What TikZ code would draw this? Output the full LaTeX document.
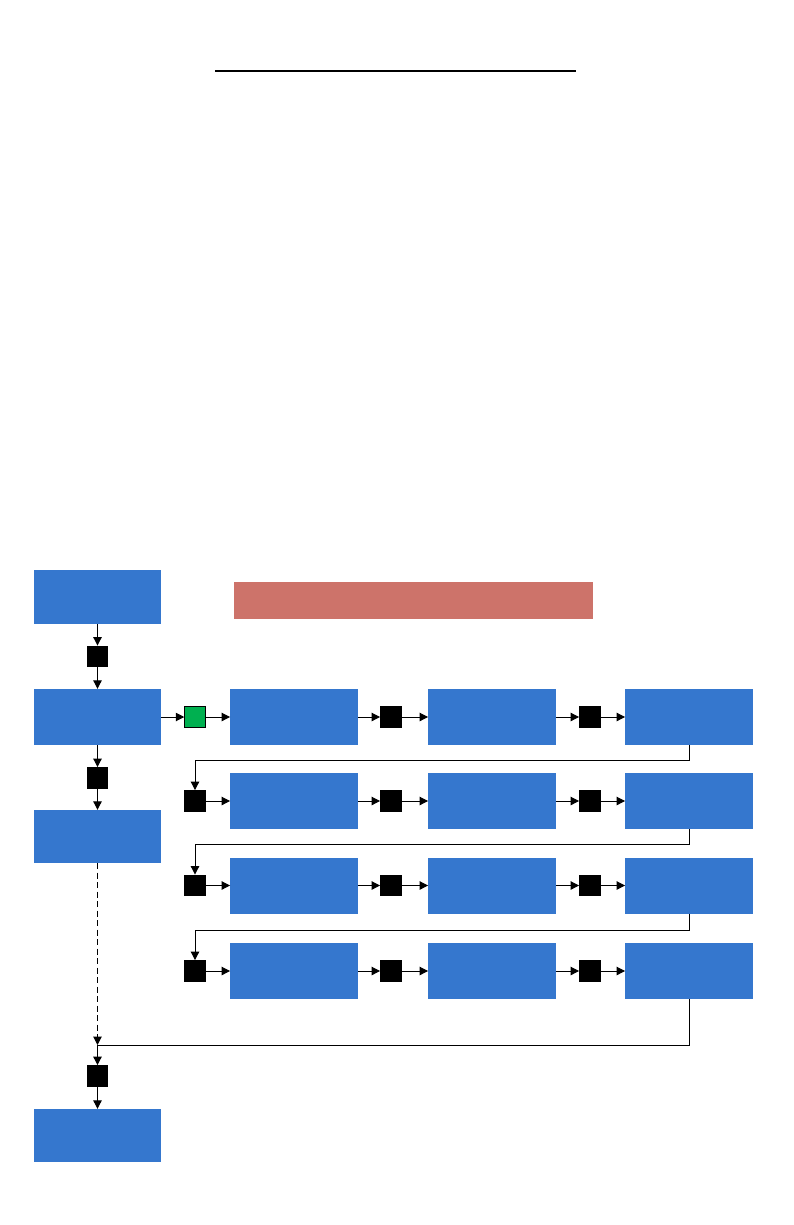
\documentclass[tikz,border=0pt]{standalone}
\usetikzlibrary{arrows.meta}
\definecolor{boxblue}{RGB}{53,119,206}
\definecolor{barred}{RGB}{205,115,106}
\definecolor{gategreen}{RGB}{0,176,80}
\begin{document}
\begin{tikzpicture}[x=1pt,y=-1pt,
  blk/.style={rectangle,fill=boxblue,minimum width=127.5pt,minimum height=56pt,inner sep=0pt},
  sq/.style={rectangle,fill=black,minimum size=21.5pt,inner sep=0pt},
  gsq/.style={rectangle,fill=gategreen,draw=black,line width=0.8pt,minimum size=20.7pt,inner sep=0pt},
  link/.style={line width=1pt,-{Triangle[length=8.5pt,width=8.5pt]}},
  wire/.style={line width=1pt}]
\useasboundingbox (0,0) rectangle (793,1225);
% title rule
\draw[line width=2pt] (215,71) -- (576,71);
% banner
\node[fill=barred,minimum width=359pt,minimum height=37pt,inner sep=0pt] (banner) at (413.5,600.5) {};
% left column
\node[blk,minimum height=54pt] (A) at (97.5,597) {};
\node[sq] (s1) at (97.5,656.5) {};
\node[blk] (B) at (97.5,717) {};
\node[sq] (s2) at (97.5,778) {};
\node[blk,minimum height=53pt] (D) at (97.5,836.5) {};
\coordinate (m) at (97.5,1045);
\node[sq] (s3) at (97.5,1076) {};
\node[blk,minimum height=53pt] (E) at (97.5,1135.5) {};
\draw[link] (A) -- (s1);
\draw[link] (s1) -- (B);
\draw[link] (B) -- (s2);
\draw[link] (s2) -- (D);
% rows
\node[gsq] (qa1) at (195,717) {};
\foreach \rw/\yy in {a/717,b/801,c/885.5,d/971}{
  \node[blk] (R\rw1) at (294,\yy) {};
  \node[sq] (q\rw2) at (391,\yy) {};
  \node[blk] (R\rw2) at (492,\yy) {};
  \node[sq] (q\rw3) at (590,\yy) {};
  \node[blk] (R\rw3) at (689,\yy) {};
}
\foreach \rw/\yy in {b/801,c/885.5,d/971}{
  \node[sq] (q\rw1) at (195,\yy) {};
}
\draw[link] (B) -- (qa1);
\foreach \rw in {a,b,c,d}{
  \draw[link] (q\rw1) -- (R\rw1);
  \draw[link] (R\rw1) -- (q\rw2);
  \draw[link] (q\rw2) -- (R\rw2);
  \draw[link] (R\rw2) -- (q\rw3);
  \draw[link] (q\rw3) -- (R\rw3);
}
% row wrap-arounds
\coordinate (t1) at (689,760);
\coordinate (t2) at (689,844.5);
\coordinate (t3) at (689,930);
\draw[link] (Ra3.south) -- (t1) -| (qb1.north);
\draw[link] (Rb3.south) -- (t2) -| (qc1.north);
\draw[link] (Rc3.south) -- (t3) -| (qd1.north);
% merge
\draw[wire] (Rd3.south) |- (m);
\draw[link,dashed,dash pattern=on 6pt off 3.5pt] (D) -- (m);
\draw[link] (m) -- (s3);
\draw[link] (s3) -- (E);
\end{tikzpicture}
\end{document}
